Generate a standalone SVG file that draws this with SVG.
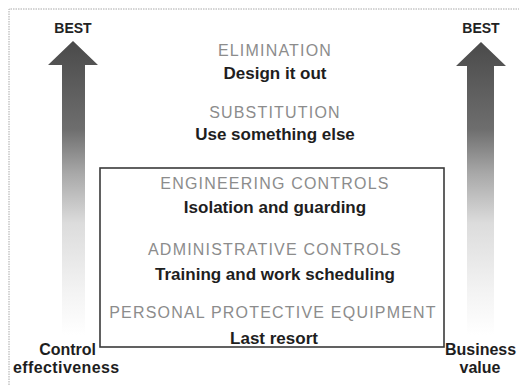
<svg xmlns="http://www.w3.org/2000/svg" width="519" height="385" viewBox="0 0 519 385">
  <style>
    .title { font-family: "Liberation Sans", Arial, sans-serif; font-size: 16px; fill: #8c8c8c; text-anchor: middle; letter-spacing: 1.2px; }
    .sub { font-family: "Liberation Sans", Arial, sans-serif; font-size: 17px; font-weight: bold; fill: #1e1e1e; text-anchor: middle; }
    .best { font-family: "Liberation Sans", Arial, sans-serif; font-size: 14px; font-weight: bold; fill: #222; text-anchor: middle; }
    .axis { font-family: "Liberation Sans", Arial, sans-serif; font-size: 16px; font-weight: bold; fill: #1e1e1e; }
    .frame { fill: none; stroke: #a8a8a8; stroke-width: 1; stroke-dasharray: 1.5 1; }
    .box { fill: none; stroke: #3a3a3a; stroke-width: 1.6; }
  </style>
  <defs>
    <linearGradient id="fade" gradientUnits="userSpaceOnUse" x1="0" y1="41" x2="0" y2="335">
      <stop offset="0" stop-color="#4a4a4a"/>
      <stop offset="0.3" stop-color="#6e6e6e"/>
      <stop offset="0.45" stop-color="#a8a8a8"/>
      <stop offset="0.62" stop-color="#dcdcdc"/>
      <stop offset="0.85" stop-color="#f3f3f3"/>
      <stop offset="1" stop-color="#ffffff"/>
    </linearGradient>
  </defs>
  <rect x="0" y="0" width="519" height="385" fill="#ffffff"/>
  <path class="frame" d="M9,385 L9,9 L519,9"/>

  <g id="arrow-left">
    <path d="M73,41 L98,65 L85,65 L85,335 L62,335 L62,65 L48,65 Z" fill="url(#fade)"/>
    <text class="best" x="73" y="33">BEST</text>
  </g>
  <g id="arrow-right">
    <path d="M481,42 L506,66 L494,66 L494,335 L467,335 L467,66 L456,66 Z" fill="url(#fade)"/>
    <text class="best" x="481" y="33">BEST</text>
  </g>

  <g id="box">
    <rect class="box" x="100" y="168" width="344" height="179"/>
  </g>

  <g id="elimination">
    <text class="title" x="275" y="56">ELIMINATION</text>
    <text class="sub" x="275" y="79">Design it out</text>
  </g>
  <g id="substitution">
    <text class="title" x="275" y="118">SUBSTITUTION</text>
    <text class="sub" x="275" y="140">Use something else</text>
  </g>
  <g id="engineering">
    <text class="title" x="275" y="189">ENGINEERING CONTROLS</text>
    <text class="sub" x="275" y="213">Isolation and guarding</text>
  </g>
  <g id="administrative">
    <text class="title" x="275" y="255">ADMINISTRATIVE CONTROLS</text>
    <text class="sub" x="275" y="280">Training and work scheduling</text>
  </g>
  <g id="ppe">
    <text class="title" x="273" y="318">PERSONAL PROTECTIVE EQUIPMENT</text>
    <text class="sub" x="274" y="344">Last resort</text>
  </g>

  <g id="axis-left">
    <text class="axis" x="96" y="355" text-anchor="end">Control</text>
    <text class="axis" x="13" y="373" letter-spacing="0.4">effectiveness</text>
  </g>
  <g id="axis-right">
    <text class="axis" x="445" y="355">Business</text>
    <text class="axis" x="480" y="373" text-anchor="middle">value</text>
  </g>

  <g id="connectors"></g>
</svg>
